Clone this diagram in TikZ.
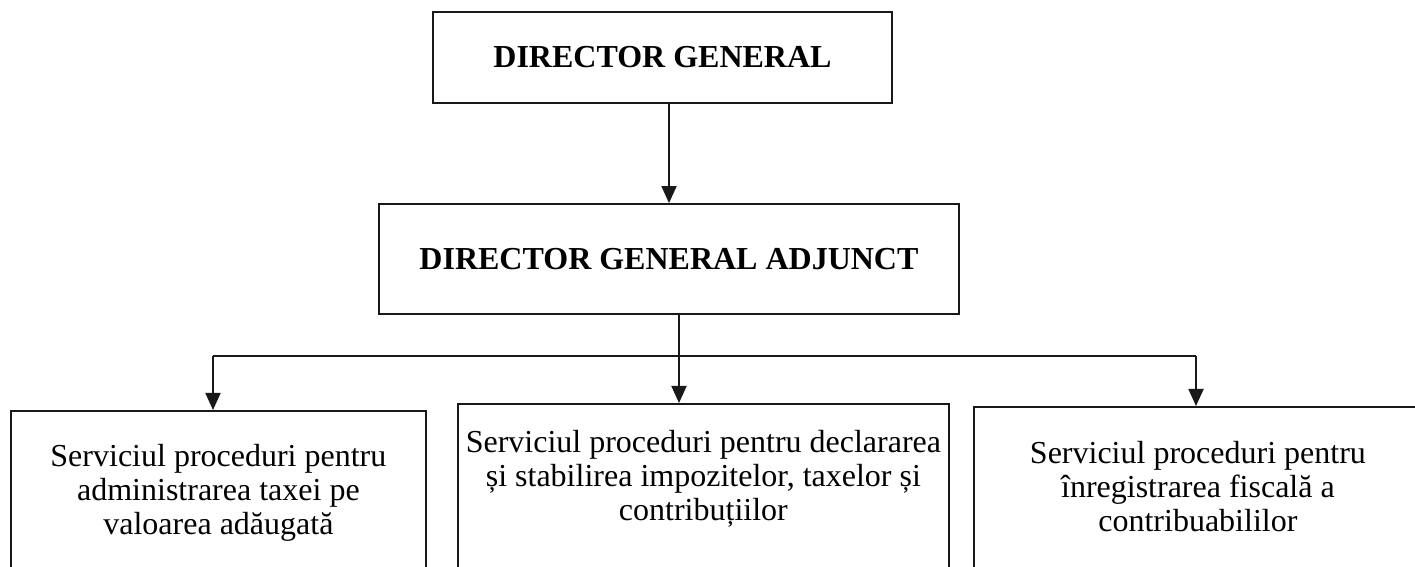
\documentclass[tikz,border=0pt]{standalone}
\usepackage{fontspec}
\setmainfont{Liberation Serif}
\usetikzlibrary{arrows.meta,positioning,calc}
\begin{document}
\begin{tikzpicture}[x=1pt,y=1pt,
  line/.style={line width=1.8pt, draw=black!90},
  arr/.style={line, -{Triangle[width=15pt,length=17pt]}},
  topbox/.style={line, rectangle, inner sep=0pt, font=\fontsize{32}{33}\selectfont\bfseries},
  lowbox/.style={line, rectangle, inner sep=0pt, anchor=north west, minimum height=250pt},
  lowtext/.style={inner sep=0pt, anchor=north, align=center, font=\fontsize{32}{34}\selectfont}
]
\useasboundingbox (0,0) rectangle (1415,567);
\fill[white] (0,0) rectangle (1415,567);
\begin{scope}
\clip (0,0) rectangle (1415,567);
% top boxes
\node[topbox, draw, minimum width=459pt, minimum height=91pt] (DG) at (662.5,509.5) {DIRECTOR GENERAL};
\node[topbox, draw, minimum width=580pt, minimum height=110pt] (DGA) at (669,308) {DIRECTOR GENERAL ADJUNCT};
% bottom boxes (cut off by the page edge)
\node[lowbox, draw, minimum width=415pt] (L) at (10,157) {};
\node[lowbox, draw, minimum width=491pt] (M) at (457,164) {};
\node[lowbox, draw, minimum width=448pt] (R) at (973,161) {};
\node[lowtext] (Lt) at ([yshift=-34pt]L.north) {Serviciul proceduri pentru\\administrarea taxei pe\\valoarea adăugată};
\node[lowtext] (Mt) at ([yshift=-27pt]M.north) {Serviciul proceduri pentru declararea\\și stabilirea impozitelor, taxelor și\\contribuțiilor};
\node[lowtext] (Rt) at ([yshift=-35pt]R.north) {Serviciul proceduri pentru\\înregistrarea fiscală a\\contribuabililor};
% connectors
\draw[arr] (DG.south -| DGA.north) -- (DGA.north);
\coordinate (jM) at (679,211);
\coordinate (busL) at (213,211);
\coordinate (busR) at (1196,211);
\draw[arr] (jM |- DGA.south) -- (jM |- M.north);
\draw[line] (busL) -- (busR);
\draw[arr] (busL) -- (busL |- L.north);
\draw[arr] (busR) -- (busR |- R.north);
\end{scope}
\end{tikzpicture}
\end{document}
